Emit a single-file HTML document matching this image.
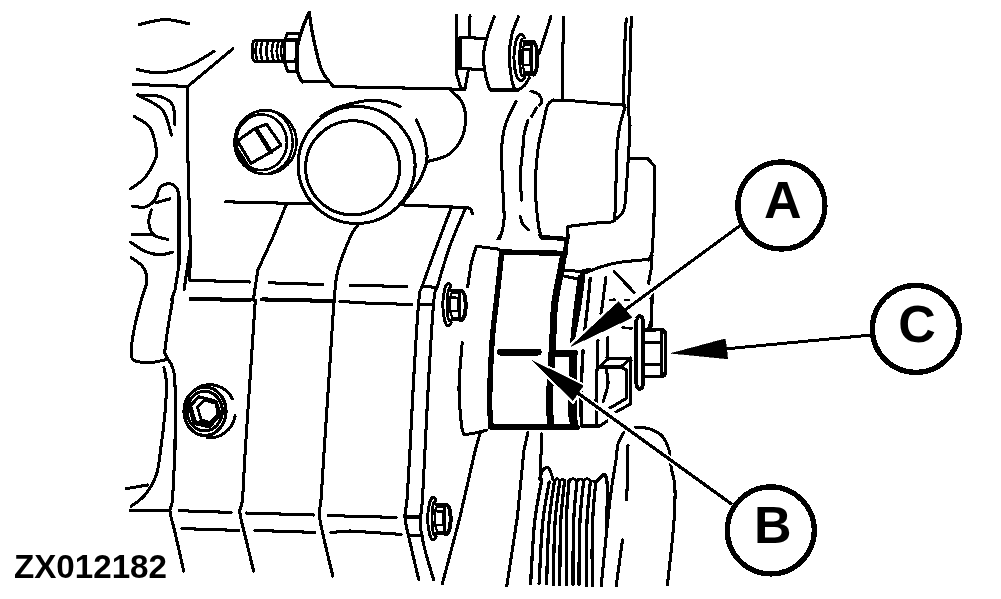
<!DOCTYPE html>
<html><head><meta charset="utf-8"><title>ZX012182</title>
<style>
html,body{margin:0;padding:0;background:#fff;}
body{width:1001px;height:599px;overflow:hidden;font-family:"Liberation Sans",sans-serif;}
svg{will-change:transform;display:block;position:absolute;left:0;top:0;}
svg path,svg circle,svg ellipse,svg rect{fill:none;stroke:#000;stroke-linecap:round;stroke-linejoin:round;}
svg text{font-family:"Liberation Sans",sans-serif;font-weight:bold;fill:#000;stroke:none;}
</style></head><body>
<svg width="1001" height="599" viewBox="0 0 1001 599" shape-rendering="crispEdges">
<path d="M139.3,24.5C143.6,23.7 156.7,19.6 165.0,19.5C173.3,19.4 185.0,23.1 189.0,23.8" stroke-width="3.0500000000000003"/>
<path d="M137.6,69.6C140.5,70.1 148.8,72.4 155.1,72.6C161.4,72.8 168.5,72.3 175.2,70.6C181.9,68.9 188.7,65.8 195.2,62.6C201.7,59.4 210.9,53.2 214.0,51.3" stroke-width="3.0500000000000003"/>
<path d="M133.3,84.4L187.7,86.4L232.8,48.8" stroke-width="3.0500000000000003"/>
<path d="M187.7,86.4L187.7,150.0L190.4,250.0L189.7,280.3L249.8,282.0" stroke-width="3.0500000000000003"/>
<path d="M137.5,95.0C141.2,95.2 154.2,94.8 160.0,96.5C165.8,98.2 170.1,100.2 172.6,105.0C175.1,109.8 174.6,121.7 175.0,125.0" stroke-width="3.0500000000000003"/>
<path d="M140.0,96.5C143.8,98.8 157.4,103.6 162.6,110.0C167.8,116.4 169.9,130.8 171.4,135.0" stroke-width="3.0500000000000003"/>
<path d="M134.3,116.5C136.9,118.4 146.3,122.1 150.0,127.7C153.7,133.3 155.6,144.6 156.4,150.0C157.2,155.4 156.9,155.4 155.0,160.0C153.1,164.6 149.1,172.8 145.0,177.6C140.9,182.4 133.0,186.9 130.6,188.8" stroke-width="3.0500000000000003"/>
<rect x="252.9" y="40.4" width="31.6" height="21" rx="3" ry="3" stroke-width="3.0500000000000003"/>
<path d="M257.3,41.0C257.0,42.7 255.5,47.7 255.5,51.0C255.5,54.3 257.0,59.3 257.3,61.0" stroke-width="2.6500000000000004"/>
<path d="M262.3,41.0C262.0,42.7 260.5,47.7 260.5,51.0C260.5,54.3 262.0,59.3 262.3,61.0" stroke-width="2.6500000000000004"/>
<path d="M268.0,41.0C267.7,42.7 266.2,47.7 266.2,51.0C266.2,54.3 267.7,59.3 268.0,61.0" stroke-width="2.6500000000000004"/>
<path d="M273.6,41.0C273.3,42.7 271.8,47.7 271.8,51.0C271.8,54.3 273.3,59.3 273.6,61.0" stroke-width="2.6500000000000004"/>
<path d="M278.6,41.0C278.3,42.7 276.8,47.7 276.8,51.0C276.8,54.3 278.3,59.3 278.6,61.0" stroke-width="2.6500000000000004"/>
<path d="M282.7,41.0C282.4,42.7 280.9,47.7 280.9,51.0C280.9,54.3 282.4,59.3 282.7,61.0" stroke-width="2.6500000000000004"/>
<path d="M284.7,40.0L287.6,33.4L299.3,33.9" stroke-width="3.0500000000000003"/>
<path d="M284.7,40.0L297.6,40.0" stroke-width="3.0500000000000003"/>
<path d="M284.7,61.8L297.0,61.8" stroke-width="3.0500000000000003"/>
<path d="M284.7,62.6L287.6,71.0L296.8,71.5" stroke-width="3.0500000000000003"/>
<path d="M297.2,40.0L296.8,71.5" stroke-width="4.05"/>
<path d="M309.3,12.5C308.5,14.3 306.0,19.1 304.3,23.4C302.6,27.7 300.6,34.0 299.3,38.4C298.1,42.8 297.3,45.3 296.8,50.0C296.3,54.7 296.0,62.3 296.4,66.8C296.8,71.3 298.3,74.3 299.3,76.8C300.3,79.3 302.1,81.0 302.6,81.8" stroke-width="3.45"/>
<path d="M302.6,81.8L326.8,81.8" stroke-width="3.0500000000000003"/>
<path d="M309.3,12.5C309.7,15.4 310.7,23.8 311.8,30.0C312.9,36.2 314.5,43.6 316.0,50.0C317.5,56.4 319.2,63.7 321.0,68.4C322.8,73.2 324.7,75.5 326.8,78.5C328.9,81.5 332.4,85.2 333.5,86.5" stroke-width="3.25"/>
<path d="M333.5,86.5L360.0,87.1L465.0,89.3" stroke-width="3.0500000000000003"/>
<ellipse cx="265.5" cy="142.2" rx="31" ry="31.9" stroke-width="2.75"/>
<ellipse cx="261.5" cy="142.3" rx="25.4" ry="27.8" stroke-width="2.6500000000000004"/>
<path d="M275.0,111.9C276.5,113.1 281.5,116.2 284.0,119.0C286.5,121.8 288.5,124.6 290.0,128.4C291.5,132.2 292.6,137.9 292.8,142.0C293.0,146.1 292.0,149.7 291.0,153.0C290.0,156.3 288.8,159.1 286.8,161.8C284.8,164.5 281.8,167.1 279.0,169.0C276.2,170.9 271.5,172.5 270.0,173.2" stroke-width="2.45"/>
<path d="M237.5,140.9L255.1,128.4L270.1,152.6L250.9,163.4Z" stroke-width="3.0500000000000003"/>
<path d="M255.1,128.4L266.7,124.2L280.9,145.1L270.1,152.6" stroke-width="3.0500000000000003"/>
<path d="M256.7,129.5L271.3,152.0" stroke-width="4.05"/>
<path d="M236.7,148.4L248.4,166.8" stroke-width="3.45"/>
<circle cx="356.6" cy="165" r="58.5" stroke-width="3.0500000000000003"/>
<circle cx="352.6" cy="167.8" r="47" stroke-width="3.0500000000000003"/>
<path d="M321.0,116.5C322.8,115.4 328.2,111.8 332.0,110.0C335.8,108.2 340.0,106.8 344.0,105.6C348.0,104.4 351.7,103.5 356.0,102.6C360.3,101.7 364.9,100.5 370.0,100.4C375.1,100.3 381.8,100.8 386.8,101.8C391.8,102.8 398.0,105.9 400.2,106.7" stroke-width="3.0500000000000003"/>
<path d="M416.2,120.0C417.5,123.1 422.4,132.0 424.2,138.7C426.0,145.4 427.8,152.9 426.9,160.0C426.0,167.1 422.2,175.2 418.9,181.5C415.5,187.8 409.7,193.7 406.8,197.5C403.9,201.3 402.3,203.4 401.4,204.6" stroke-width="3.0500000000000003"/>
<path d="M450.9,90.7C452.7,92.5 459.2,97.0 461.6,101.4C464.1,105.9 465.6,111.2 465.6,117.4C465.6,123.6 464.5,132.5 461.6,138.7C458.7,144.9 453.8,151.0 448.2,154.8C442.6,158.6 431.5,160.3 428.2,161.4" stroke-width="3.0500000000000003"/>
<path d="M225.3,201.8L311.0,203.8" stroke-width="3.0500000000000003"/>
<path d="M404.2,205.0L467.0,207.6" stroke-width="3.0500000000000003"/>
<path d="M467.0,207.6C467.6,207.8 469.6,207.9 470.5,209.0C471.4,210.1 472.3,213.1 472.7,213.9" stroke-width="3.0500000000000003"/>
<path d="M456.4,15.0L456.4,73.4L460.9,88.5" stroke-width="3.0500000000000003"/>
<path d="M470.0,15.8L469.7,36.7" stroke-width="3.0500000000000003"/>
<path d="M460.9,37.5L485.9,38.4" stroke-width="3.0500000000000003"/>
<path d="M459.6,38.4L459.6,68.4" stroke-width="4.05"/>
<path d="M460.0,68.4L483.4,69.6" stroke-width="3.0500000000000003"/>
<path d="M460.9,88.5L465.0,88.5L468.4,70.0" stroke-width="3.0500000000000003"/>
<path d="M494.2,16.7C492.9,20.3 488.5,31.7 486.7,38.4C484.9,45.1 483.5,50.3 483.4,56.7C483.3,63.1 484.8,71.2 485.9,76.8C487.0,82.3 489.3,87.8 490.0,90.0" stroke-width="3.0500000000000003"/>
<path d="M490.0,90.0L518.5,90.0" stroke-width="3.0500000000000003"/>
<path d="M518.5,16.7C517.4,19.8 513.3,28.3 511.8,35.0C510.3,41.7 509.3,49.2 509.3,56.7C509.3,64.2 510.9,74.5 511.8,80.0C512.8,85.5 514.5,88.3 515.0,90.0" stroke-width="3.0500000000000003"/>
<path d="M518.5,90.0C519.6,89.2 523.2,87.1 525.0,85.0C526.8,82.9 528.6,78.8 529.3,77.6" stroke-width="3.0500000000000003"/>
<path d="M524.6,37.9A7.0,23.2 0 1 0 524.6,77.3" stroke-width="2.95"/>
<path d="M521.9,76.0A2.576,18.700000000000003 0 0 1 521.9,39.2" stroke-width="2.85"/>
<path d="M523.8,41.5L534.0,41.5C536.5,44.4 537.7,51.0 537.7,58.1C537.7,66.4 536.5,72.5 534.0,75.0L524.2,74.3" stroke-width="3.2"/>
<path d="M522.6,49.4L529.9,49.7L530.3,64.8L522.6,64.8Z" stroke-width="2.45"/>
<path d="M522.6,49.4L524.2,44.4L531.5,44.4" stroke-width="2.25"/>
<path d="M522.6,64.8L524.6,72.3L531.5,72.3" stroke-width="2.25"/>
<path d="M531.2,43.9L531.2,72.6" stroke-width="3.25"/>
<path d="M534.0,43.4A3.128,14.96 0 0 1 534.0,72.9" stroke-width="2.45"/>
<path d="M451.1,286.8A5.3,21.2 0 1 0 451.1,322.8" stroke-width="2.95"/>
<path d="M449.4,321.0A2.7159999999999997,16.49 0 0 1 449.4,288.6" stroke-width="2.85"/>
<path d="M451.4,290.6L462.1,290.6C464.8,293.2 466.1,299.0 466.1,305.3C466.1,312.6 464.8,317.9 462.1,320.1L451.8,319.5" stroke-width="3.2"/>
<path d="M450.0,297.5L457.8,297.8L458.2,311.1L450.0,311.1Z" stroke-width="2.45"/>
<path d="M450.0,297.5L451.8,293.2L459.5,293.2" stroke-width="2.25"/>
<path d="M450.0,311.1L452.2,317.8L459.5,317.8" stroke-width="2.25"/>
<path d="M459.2,292.7L459.2,318.0" stroke-width="3.25"/>
<path d="M462.1,292.3A3.298,13.192 0 0 1 462.1,318.3" stroke-width="2.45"/>
<path d="M436.0,500.6A5.3,21.2 0 1 0 436.0,536.6" stroke-width="2.95"/>
<path d="M434.3,535.0A2.7439999999999998,16.66 0 0 1 434.3,502.2" stroke-width="2.85"/>
<path d="M436.3,504.3L447.1,504.3C449.9,506.8 451.1,512.7 451.1,519.1C451.1,526.4 449.9,531.8 447.1,534.1L436.7,533.5" stroke-width="3.2"/>
<path d="M435.0,511.2L442.8,511.5L443.2,525.0L435.0,525.0Z" stroke-width="2.45"/>
<path d="M435.0,511.2L436.7,506.8L444.5,506.8" stroke-width="2.25"/>
<path d="M435.0,525.0L437.1,531.7L444.5,531.7" stroke-width="2.25"/>
<path d="M444.2,506.4L444.2,531.9" stroke-width="3.25"/>
<path d="M447.1,506.0A3.332,13.328 0 0 1 447.1,532.2" stroke-width="2.45"/>
<path d="M551.0,16.7L539.3,53.4" stroke-width="3.0500000000000003"/>
<path d="M563.5,17.5L562.7,60.0L562.7,100.0" stroke-width="3.0500000000000003"/>
<path d="M553.5,100.0L575.0,101.0L600.0,103.2L625.0,105.2" stroke-width="3.0500000000000003"/>
<path d="M553.5,100.0C552.5,100.9 549.5,101.0 547.7,105.2C545.9,109.4 544.5,117.5 542.9,125.0C541.3,132.5 539.1,139.6 537.9,150.0C536.6,160.4 535.3,175.1 535.4,187.6C535.5,200.1 537.4,217.1 538.4,225.2C539.4,233.3 541.1,234.5 541.6,236.4" stroke-width="3.0500000000000003"/>
<path d="M541.6,236.4L565.4,238.2" stroke-width="3.0500000000000003"/>
<path d="M531.0,91.0C532.2,91.5 536.7,92.6 538.5,94.3C540.3,96.0 541.6,99.2 541.8,101.0C542.0,102.8 539.9,104.3 539.5,105.0" stroke-width="3.0500000000000003"/>
<path d="M536.6,107.7L531.6,116.5" stroke-width="3.0500000000000003"/>
<path d="M527.9,120.2C527.2,122.7 524.9,130.0 524.0,135.0C523.1,140.0 523.4,143.3 522.8,150.0C522.2,156.7 520.5,166.7 520.3,175.0C520.1,183.3 521.4,195.8 521.6,200.0" stroke-width="3.0500000000000003"/>
<path d="M516.0,101.5C514.2,105.5 507.7,117.1 505.3,125.2C502.9,133.3 502.0,139.6 501.6,150.0C501.2,160.4 502.4,175.9 502.8,187.6C503.2,199.3 504.5,211.4 504.0,220.0C503.5,228.6 500.5,235.8 499.8,239.0" stroke-width="3.0500000000000003"/>
<path d="M520.3,216.4C520.7,217.7 521.4,221.7 522.8,223.9C524.1,226.1 527.5,228.7 528.4,229.7" stroke-width="3.0500000000000003"/>
<path d="M626.3,18.8C626.1,22.3 625.4,29.0 625.0,40.0C624.6,51.0 624.0,74.2 623.8,85.0C623.6,95.8 623.8,101.7 623.8,105.0" stroke-width="3.0500000000000003"/>
<path d="M631.3,17.5C631.2,21.2 630.9,28.3 630.6,40.0C630.3,51.7 630.0,76.3 629.6,87.6C629.2,98.9 627.9,101.5 628.0,107.7C628.1,113.9 629.9,118.0 630.0,125.0C630.1,132.1 629.4,139.6 628.8,150.0C628.2,160.4 627.1,177.6 626.3,187.6C625.5,197.6 625.7,204.7 623.8,210.0C621.9,215.3 616.5,218.0 615.0,219.6" stroke-width="3.0500000000000003"/>
<path d="M625.0,107.7C624.2,110.6 621.3,118.2 620.0,125.2C618.7,132.2 617.8,135.4 617.0,150.0C616.2,164.6 615.8,200.7 615.0,212.6C614.2,224.5 615.0,219.7 612.5,221.4C610.0,223.1 602.1,222.7 600.0,223.0" stroke-width="3.0500000000000003"/>
<path d="M600.0,222.6L567.9,226.4L566.7,250.2" stroke-width="3.0500000000000003"/>
<path d="M628.8,158.3L647.6,158.3L654.6,166.3L653.9,225.0L652.0,252.7L648.8,260.0" stroke-width="3.0500000000000003"/>
<path d="M581.7,274.2C585.0,272.9 595.6,268.6 601.7,266.7C607.8,264.8 610.6,263.7 618.4,262.5C626.2,261.3 643.5,259.9 648.5,259.4" stroke-width="3.0500000000000003"/>
<path d="M652.0,255.2L651.4,267.7L648.5,283.4" stroke-width="3.0500000000000003"/>
<path d="M651.0,298.4L651.8,310.0L651.0,326.8" stroke-width="3.0500000000000003"/>
<path d="M614.3,271.7L634.3,292.6" stroke-width="3.0500000000000003"/>
<path d="M605.9,277.5L601.7,310.0L600.9,313.4" stroke-width="3.0500000000000003"/>
<path d="M610.0,300.0L615.0,299.7" stroke-width="2.6500000000000004"/>
<path d="M625.0,300.0L628.4,300.0" stroke-width="2.6500000000000004"/>
<path d="M622.6,327.6L631.8,328.4" stroke-width="2.6500000000000004"/>
<path d="M179.0,196.3L179.0,265.0L175.0,290.0L171.4,300.0" stroke-width="3.0500000000000003"/>
<path d="M157.0,196.3C157.5,194.9 158.0,189.7 160.0,187.6C162.0,185.5 166.2,183.8 168.9,183.8C171.6,183.8 174.7,185.5 176.4,187.6C178.1,189.7 178.6,194.9 179.0,196.3" stroke-width="3.0500000000000003"/>
<path d="M132.6,206.3C134.7,206.4 141.5,207.8 145.0,207.0C148.5,206.2 151.8,203.3 153.8,201.3C155.8,199.3 156.5,196.1 157.0,195.0" stroke-width="3.0500000000000003"/>
<path d="M156.4,202.6L170.0,198.8" stroke-width="3.0500000000000003"/>
<path d="M151.3,210.0C150.9,212.1 148.4,218.4 148.8,222.6C149.2,226.8 150.7,232.2 153.8,235.0C156.9,237.8 165.3,238.7 167.6,239.4" stroke-width="3.0500000000000003"/>
<path d="M132.6,234.4L151.3,234.4" stroke-width="3.0500000000000003"/>
<path d="M130.6,242.2C133.0,243.7 140.1,249.3 145.0,251.4C149.9,253.5 155.4,254.6 160.0,254.7C164.6,254.8 170.5,252.6 172.6,252.2" stroke-width="3.0500000000000003"/>
<path d="M131.3,257.7C133.2,259.2 140.0,262.8 142.6,266.5C145.2,270.2 147.2,274.6 147.0,280.2C146.8,285.8 143.3,292.5 141.3,300.0C139.3,307.5 136.7,316.7 135.0,325.0C133.3,333.3 131.5,344.2 131.3,350.0C131.1,355.8 130.7,357.9 133.8,360.0C136.9,362.1 144.6,362.7 150.0,362.6C155.4,362.5 163.7,360.1 166.4,359.6" stroke-width="3.0500000000000003"/>
<path d="M190.0,250.0L184.0,290.0" stroke-width="3.0500000000000003"/>
<path d="M172.6,300.0C171.8,305.0 168.9,321.2 167.6,330.0C166.3,338.8 165.1,348.8 164.6,352.6" stroke-width="3.0500000000000003"/>
<path d="M164.6,352.6C165.0,353.4 165.7,355.1 167.0,357.6C168.3,360.1 171.3,363.0 172.6,367.6C173.9,372.2 174.6,371.3 175.0,385.0C175.4,398.7 175.0,439.2 175.0,450.0" stroke-width="3.0500000000000003"/>
<path d="M163.9,367.6C164.3,370.1 166.2,375.1 166.4,382.6C166.6,390.1 166.0,401.5 165.0,412.7C164.0,423.9 162.1,439.6 160.6,450.0C159.1,460.4 158.8,467.5 156.2,475.0C153.6,482.5 149.2,489.8 145.0,495.0C140.8,500.2 133.5,504.3 131.2,506.2" stroke-width="3.0500000000000003"/>
<path d="M126.2,488.7L147.5,485.0" stroke-width="3.0500000000000003"/>
<path d="M175.0,450.0C174.6,458.3 173.2,489.8 172.4,500.0C171.6,510.2 169.6,505.8 170.0,511.2C170.4,516.6 172.7,522.4 175.0,532.4C177.3,542.4 182.2,564.6 183.7,571.0" stroke-width="3.0500000000000003"/>
<path d="M130.5,510.7L170.0,510.7" stroke-width="3.0500000000000003"/>
<path d="M286.6,203.8L272.8,237.6L257.8,270.2L253.3,300.0" stroke-width="3.0500000000000003"/>
<path d="M255.3,300.0C254.5,312.5 252.0,350.0 250.3,375.0C248.6,400.0 246.6,429.2 245.3,450.0C244.0,470.8 243.3,489.6 242.4,500.0C241.5,510.4 239.5,506.6 239.9,512.4C240.3,518.2 242.6,525.1 244.9,534.9C247.2,544.7 252.2,565.0 253.6,571.0" stroke-width="3.0500000000000003"/>
<path d="M269.0,282.8L323.0,284.5" stroke-width="3.0500000000000003"/>
<path d="M357.4,225.5C356.2,227.5 353.2,230.2 350.0,237.6C346.8,245.0 340.6,259.6 338.0,270.0C335.4,280.4 335.7,282.5 334.2,300.0C332.7,317.5 330.9,350.0 329.2,375.0C327.5,400.0 325.6,429.2 324.2,450.0C322.8,470.8 321.8,489.2 321.0,500.0C320.2,510.8 318.7,507.9 319.3,515.0C319.9,522.1 322.6,532.2 324.8,542.4C327.1,552.6 331.5,570.4 332.8,576.0" stroke-width="3.0500000000000003"/>
<path d="M350.0,285.3L406.4,286.5" stroke-width="3.0500000000000003"/>
<path d="M191.0,299.0L250.0,300.0" stroke-width="4.05"/>
<path d="M262.0,299.4L333.0,301.0" stroke-width="4.05"/>
<path d="M340.0,301.5L350.0,302.0" stroke-width="3.0500000000000003"/>
<path d="M350.0,302.5L411.4,304.5" stroke-width="3.0500000000000003"/>
<path d="M179.4,510.7L231.1,512.4" stroke-width="3.0500000000000003"/>
<path d="M246.1,513.0L313.5,515.0" stroke-width="3.0500000000000003"/>
<path d="M328.5,515.4L350.0,516.2L396.2,517.4" stroke-width="3.0500000000000003"/>
<path d="M182.0,528.6L238.6,530.4" stroke-width="3.0500000000000003"/>
<path d="M254.8,530.4L314.8,532.4" stroke-width="3.0500000000000003"/>
<path d="M331.0,532.4L350.0,531.0L401.2,534.4" stroke-width="3.0500000000000003"/>
<path d="M451.5,207.0C448.8,214.2 440.0,237.1 435.2,250.2C430.4,263.2 425.3,277.0 422.6,285.3C419.9,293.6 420.3,285.1 418.9,300.0C417.4,314.9 415.4,350.0 413.9,375.0C412.4,400.0 411.1,429.2 410.0,450.0C408.9,470.8 407.8,488.8 407.0,500.0C406.2,511.2 404.5,510.3 405.0,517.4C405.5,524.4 407.7,532.0 410.0,542.3C412.3,552.6 417.2,573.1 418.7,579.3" stroke-width="3.0500000000000003"/>
<path d="M465.2,208.9C462.7,214.9 454.8,232.5 450.2,245.2C445.6,257.9 440.4,276.2 437.7,285.3C435.0,294.4 435.4,285.1 433.9,300.0C432.4,314.9 430.4,350.0 428.9,375.0C427.4,400.0 426.1,429.2 425.0,450.0C423.9,470.8 423.2,487.5 422.4,500.0C421.6,512.5 420.0,516.7 420.4,525.0C420.8,533.3 422.8,540.9 425.0,550.0C427.2,559.1 432.2,574.8 433.7,579.8" stroke-width="3.0500000000000003"/>
<path d="M422.6,286.5L436.4,287.3" stroke-width="3.0500000000000003"/>
<path d="M418.5,304.5L433.5,304.5" stroke-width="3.0500000000000003"/>
<path d="M405.0,517.0L421.0,517.0" stroke-width="3.0500000000000003"/>
<path d="M410.0,535.0L422.4,536.0" stroke-width="3.0500000000000003"/>
<ellipse cx="205" cy="411.3" rx="21" ry="24.2" stroke-width="3.25"/>
<ellipse cx="204.7" cy="411.1" rx="17.6" ry="19.8" stroke-width="3.0500000000000003"/>
<path d="M197.3,387.8A26,26.6 0 0 1 232.5,398.8" stroke-width="3.0500000000000003"/>
<path d="M235.1,415.9A26,26.6 0 0 1 207.2,437.8" stroke-width="3.0500000000000003"/>
<path d="M189.4,406.7L198.7,396.7L216.1,401.4L220.1,414.7L209.4,426.8L194.0,423.4Z" stroke-width="3.25"/>
<path d="M197.4,407.4L204.1,400.0L216.1,403.4L218.1,414.7L210.1,422.8L201.4,420.0Z" stroke-width="2.85"/>
<path d="M194,423.4 L209.4,426.8 L210.1,422.8 L201.4,420 Z" style="fill:#000" stroke-width="1"/>
<path d="M189.4,406.7 L192,407 L196.5,421.8 L194,423.4 Z" style="fill:#000" stroke-width="1"/>
<path d="M503.0,251.5C501.8,251.0 498.2,249.1 496.0,248.5C493.8,247.9 493.3,248.4 490.0,248.0C486.7,247.6 478.6,246.6 476.3,246.3" stroke-width="3.0500000000000003"/>
<path d="M476.3,246.3L471.3,262.5L467.7,286.5" stroke-width="3.0500000000000003"/>
<path d="M462.2,342.6C461.7,350.1 459.1,373.8 459.0,387.6C458.9,401.4 460.7,417.4 461.5,425.2C462.3,433.0 463.6,433.1 464.0,434.7" stroke-width="3.0500000000000003"/>
<path d="M464.0,434.7C465.8,434.4 471.2,433.8 475.0,433.0C478.8,432.2 484.6,430.7 486.5,430.2" stroke-width="3.0500000000000003"/>
<path d="M502.5,252.0L565.5,253.4" stroke-width="5.4"/>
<path d="M501.6,254.0C501.2,258.0 499.9,269.5 499.0,278.0C498.1,286.5 497.2,294.2 496.0,305.0C494.8,315.8 493.1,326.8 492.0,342.6C490.9,358.4 489.8,386.2 489.6,400.0C489.4,413.8 490.8,421.2 491.0,425.5" stroke-width="5.4"/>
<path d="M490.3,426.8L577.0,427.3" stroke-width="5.6"/>
<path d="M563.8,254.0C563.2,257.0 562.0,263.5 560.5,272.0C559.0,280.5 555.9,293.2 554.6,305.0C553.3,316.8 553.5,326.8 552.6,342.6C551.7,358.4 549.7,386.3 549.4,400.0C549.1,413.7 550.7,420.8 551.0,425.0" stroke-width="7.0"/>
<path d="M500.4,352.0L538.2,352.0" stroke-width="7"/>
<path d="M552.0,353.2L574.5,353.2" stroke-width="7"/>
<path d="M573.2,355.0C573.1,359.2 572.9,370.3 572.8,380.0C572.7,389.7 572.1,405.7 572.4,413.0C572.6,420.3 574.0,422.2 574.3,424.0" stroke-width="8.4"/>
<path d="M564.6,270.0L580.0,271.5L590.0,269.0" stroke-width="3.0500000000000003"/>
<path d="M564.0,276.0L578.0,279.0" stroke-width="3.0500000000000003"/>
<path d="M578.6,275 L584.6,276 C583.6,290 580,312 576.5,330 L573,345.5 L570.5,345 C571.5,330 575,300 578.6,275 Z" style="fill:#000" stroke-width="1"/>
<path d="M590.2,278.4C589.8,282.3 588.9,292.8 588.0,301.7C587.1,310.6 585.2,326.8 584.6,331.8" stroke-width="3.25"/>
<path d="M583.0,351.0C582.8,355.7 581.9,370.5 581.6,379.0C581.3,387.5 581.0,394.2 581.0,402.0C581.0,409.8 581.3,422.0 581.4,426.0" stroke-width="3.35"/>
<path d="M581.4,426.0L600.0,426.0L607.0,421.0" stroke-width="3.0500000000000003"/>
<path d="M539.6,235.0L541.0,238.0L566.0,239.5L568.7,238.0L568.7,235.0" stroke-width="3.0500000000000003"/>
<path d="M566.0,239.5L564.6,250.0" stroke-width="3.0500000000000003"/>
<path d="M498.0,239.0L500.0,235.0" stroke-width="3.0500000000000003"/>
<path d="M480.3,432.7L475.3,450.0L459.9,517.4L442.4,583.5" stroke-width="3.0500000000000003"/>
<path d="M527.9,432.7L524.0,450.0L517.3,517.4L506.8,586.0" stroke-width="3.0500000000000003"/>
<path d="M541.6,434.0L541.2,450.0L539.9,479.8" stroke-width="3.0500000000000003"/>
<path d="M652.6,290.0L651.3,320.0L648.8,327.6" stroke-width="3.0500000000000003"/>
<path d="M598.0,340.0L597.0,370.0L596.0,400.0L597.0,424.0" stroke-width="3.0500000000000003"/>
<path d="M608.0,337.0L607.0,358.0" stroke-width="3.0500000000000003"/>
<path d="M606.0,368.0C606.3,370.7 608.5,378.3 608.0,384.0C607.5,389.7 603.8,399.0 603.0,402.0" stroke-width="3.0500000000000003"/>
<path d="M599.0,367.0L608.0,359.0L631.0,358.0L621.0,367.0Z" stroke-width="3.0500000000000003"/>
<path d="M621.0,367.0L626.5,370.0L627.0,398.0L610.0,408.0" stroke-width="3.0500000000000003"/>
<path d="M631.0,360.0L630.5,404.0L616.0,412.0" stroke-width="3.0500000000000003"/>
<rect x="636.4" y="316" width="6.4" height="73" rx="3.2" ry="5" stroke-width="3.9"/>
<path d="M643,330 L661,329.6 Q665.4,330 665.4,335 L665.4,371.5 Q665.4,376.4 661,376.6 L643,376.4" stroke-width="3.6"/>
<path d="M643.0,342.3L662.0,342.3" stroke-width="3.0500000000000003"/>
<path d="M643.0,364.3L662.0,364.3" stroke-width="3.0500000000000003"/>
<path d="M661.5,331.0L661.5,376.0" stroke-width="2.6500000000000004"/>
<path d="M635.0,427.0C637.5,427.3 645.5,427.5 650.0,429.0C654.5,430.5 658.8,432.5 662.0,436.0C665.2,439.5 667.5,444.8 669.0,450.0C670.5,455.2 670.2,461.3 671.2,467.5C672.2,473.7 674.5,477.8 674.9,487.4C675.3,497.0 675.0,508.7 673.7,524.9C672.5,541.1 668.5,574.8 667.4,584.8" stroke-width="3.0500000000000003"/>
<path d="M624.0,432.0C623.0,434.0 619.3,439.3 618.0,444.0C616.7,448.7 617.3,450.7 616.0,460.0C614.7,469.3 612.5,479.0 610.0,500.0C607.5,521.0 602.7,571.7 601.2,586.0" stroke-width="3.0500000000000003"/>
<path d="M628.0,445.0L626.8,499.8" stroke-width="3.0500000000000003"/>
<path d="M622.5,539.8L616.2,586.0" stroke-width="3.0500000000000003"/>
<path d="M540.0,479.8C540.2,478.7 540.6,475.0 541.5,473.0C542.4,471.0 543.9,468.6 545.2,467.9C546.5,467.1 547.9,466.5 549.2,468.5C550.5,470.5 552.5,477.9 553.2,479.8" stroke-width="3.0500000000000003"/>
<path d="M541.8,479.8C540.6,486.8 536.6,504.3 534.7,521.6C532.8,538.9 531.3,573.1 530.6,583.4" stroke-width="3.25"/>
<path d="M549.2,482.0C548.1,488.8 544.3,505.8 542.7,522.7C541.0,539.6 539.7,573.3 539.1,583.4" stroke-width="3.25"/>
<path d="M554.5,481.0C553.6,487.9 550.4,505.1 549.0,522.2C547.7,539.3 547.0,573.2 546.6,583.4" stroke-width="3.25"/>
<path d="M559.8,481.0C559.0,488.0 556.1,505.6 555.0,522.9C553.9,540.2 553.5,574.5 553.2,584.8" stroke-width="3.25"/>
<path d="M564.6,480.5C564.0,487.5 561.5,505.3 560.7,522.6C559.9,540.0 559.9,574.4 559.8,584.8" stroke-width="3.25"/>
<path d="M569.1,480.0C568.6,487.1 566.7,504.9 566.3,522.4C565.9,539.9 566.5,574.4 566.5,584.8" stroke-width="3.25"/>
<path d="M577.1,480.0C576.5,487.1 574.3,504.9 573.6,522.4C572.9,539.9 573.2,574.4 573.1,584.8" stroke-width="3.25"/>
<path d="M583.7,480.5C583.1,487.5 580.6,505.3 579.9,522.6C579.1,540.0 579.1,574.4 579.0,584.8" stroke-width="3.25"/>
<path d="M590.4,481.2C589.8,488.2 587.6,506.0 586.9,523.4C586.2,540.8 586.5,575.2 586.4,585.6" stroke-width="3.25"/>
<path d="M595.7,482.5C595.2,489.4 593.0,506.9 592.5,524.0C591.9,541.2 592.2,575.3 592.2,585.6" stroke-width="3.25"/>
<path d="M554.5,481.0C554.9,480.6 556.3,478.6 557.1,478.6C558.0,478.6 559.4,480.6 559.8,481.0" stroke-width="2.85"/>
<path d="M569.1,481.0C569.8,480.6 571.8,478.6 573.1,478.6C574.4,478.6 576.4,480.6 577.1,481.0" stroke-width="2.85"/>
<path d="M583.7,481.0C584.3,480.6 585.9,478.6 587.0,478.6C588.2,478.6 589.8,480.6 590.4,481.0" stroke-width="2.85"/>
<path d="M559.8,481.0C560.2,480.7 561.4,479.5 562.2,479.4C563.0,479.3 564.2,480.3 564.6,480.5" stroke-width="2.85"/>
<path d="M577.1,480.0C577.6,479.8 579.3,478.9 580.4,479.0C581.5,479.1 583.2,480.2 583.7,480.5" stroke-width="2.85"/>
<path d="M590.4,481.2C590.8,481.2 592.1,480.8 593.0,481.0C593.9,481.2 595.2,482.2 595.7,482.5" stroke-width="2.85"/>
<path d="M595.7,482.5C596.6,481.6 599.5,478.3 601.0,477.0C602.5,475.7 604.0,473.7 605.0,474.5C606.0,475.3 606.5,478.9 607.0,482.0C607.5,485.1 607.8,485.4 607.7,493.0C607.6,500.6 606.5,521.8 606.3,527.6" stroke-width="3.45"/>
<polygon points="570.6,346.6 618.6,301.6 632,317.6" style="fill:#fff;stroke:#fff;stroke-width:5"/>
<path d="M739,226.4L625.5,309.6" style="stroke:#fff;stroke-width:6.6;stroke-linecap:butt"/>
<polygon points="570.6,346.6 618.6,301.6 632,317.6" style="fill:#000;stroke:#000;stroke-width:0.6"/>
<path d="M739,226.4L625.5,309.6" stroke-width="3.1"/>
<polygon points="532.2,360.4 583.3,385.8 572.8,400.7" style="fill:#fff;stroke:#fff;stroke-width:5"/>
<path d="M731.1,503.7L578,393.2" style="stroke:#fff;stroke-width:6.8;stroke-linecap:butt"/>
<polygon points="532.2,360.4 583.3,385.8 572.8,400.7" style="fill:#000;stroke:#000;stroke-width:0.6"/>
<path d="M731.1,503.7L578,393.2" stroke-width="3.3"/>
<polygon points="671.4,353.3 725.3,338.8 727.8,358.9" style="fill:#fff;stroke:#fff;stroke-width:5"/>
<path d="M870.6,335.1L726.5,348.8" style="stroke:#fff;stroke-width:6.5;stroke-linecap:butt"/>
<polygon points="671.4,353.3 725.3,338.8 727.8,358.9" style="fill:#000;stroke:#000;stroke-width:0.6"/>
<path d="M870.6,335.1L726.5,348.8" stroke-width="3.0"/>
<circle cx="781.4" cy="205.5" r="43.5" stroke-width="5.3"/>
<text x="782.8" y="218.4" font-size="52" text-anchor="middle">A</text>
<circle cx="770.8" cy="530.4" r="43.5" stroke-width="5.3"/>
<text x="772.8" y="543.3" font-size="52" text-anchor="middle">B</text>
<circle cx="915.8" cy="328.9" r="43.5" stroke-width="5.3"/>
<text x="917.0" y="341.79999999999995" font-size="52" text-anchor="middle">C</text>
<text id="lbl" x="14" y="578" font-size="33" textLength="153" lengthAdjust="spacingAndGlyphs">ZX012182</text>
</svg>
</body></html>
